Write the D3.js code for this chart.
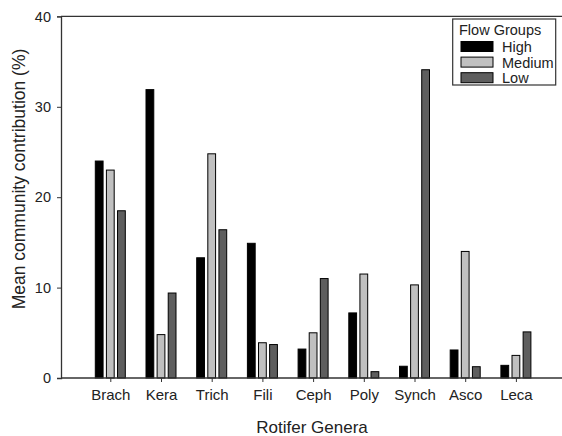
<!DOCTYPE html>
<html><head><meta charset="utf-8">
<script src="https://cdn.jsdelivr.net/npm/d3@7"></script>
<style>body{margin:0;background:#fff}svg{display:block}</style>
</head><body>
<script>
const categories = ["Brach","Kera","Trich","Fili","Ceph","Poly","Synch","Asco","Leca"];
const seriesNames = ["High","Medium","Low"];
const high   = [24.0, 31.9, 13.3, 14.9, 3.2, 7.2, 1.3, 3.1, 1.4];
const medium = [23.0, 4.8, 24.8, 3.9, 5.0, 11.5, 10.3, 14.0, 2.5];
const low    = [18.5, 9.4, 16.4, 3.7, 11.0, 0.7, 34.1, 1.25, 5.1];
const yTicks = [0, 10, 20, 30, 40];
const colors = ["#000000", "#c0c0c0", "#5e5e5e"];
const series = [high, medium, low];

const W = 562, H = 436;
const svg = d3.select("body").append("svg").attr("width", W).attr("height", H);
const font = "Liberation Sans, Arial, sans-serif";

const y = d3.scaleLinear().domain([0, 40]).range([378, 16.4]);
const x = d3.scalePoint().domain(categories).range([59.6, 566.6]).padding(1);
const sub = d3.scaleBand().domain(seriesNames).range([-15, 15]).paddingInner(0.3).paddingOuter(0);

// bars
const g = svg.append("g");
series.forEach((vals, si) => {
  g.selectAll(null).data(vals).enter().append("rect")
    .attr("x", (d, i) => x(categories[i]) + sub(seriesNames[si]))
    .attr("width", sub.bandwidth())
    .attr("y", d => y(d))
    .attr("height", d => y(0) - y(d))
    .attr("fill", colors[si])
    .attr("stroke", "#000")
    .attr("stroke-width", 1);
});

// top frame line
svg.append("line").attr("x1", 61).attr("x2", 562).attr("y1", 16.4).attr("y2", 16.4)
  .attr("stroke", "#333").attr("stroke-width", 1.3);

// y axis
const ya = svg.append("g").attr("transform", "translate(61,0)")
  .call(d3.axisLeft(y).tickValues(yTicks).tickSize(4).tickPadding(6));
ya.select(".domain").attr("stroke", "#333").attr("stroke-width", 1.3);
ya.selectAll(".tick line").attr("stroke", "#333");
ya.selectAll("text").attr("font-family", font).attr("font-size", 14.5).attr("fill", "#222");

// x axis
const xa = svg.append("g").attr("transform", "translate(0,378)")
  .call(d3.axisBottom(x).tickSize(4).tickPadding(7));
xa.select(".domain").remove();
xa.append("line").attr("x1", 61).attr("x2", 562).attr("stroke", "#333").attr("stroke-width", 1.3);
xa.selectAll(".tick line").attr("stroke", "#333");
xa.selectAll("text").attr("font-family", font).attr("font-size", 15).attr("fill", "#222");

// axis titles
svg.append("text").attr("x", 312).attr("y", 433).attr("text-anchor", "middle")
  .attr("font-family", font).attr("font-size", 17).attr("fill", "#222").text("Rotifer Genera");
svg.append("text").attr("transform", "translate(25,179) rotate(-90)").attr("text-anchor", "middle")
  .attr("font-family", font).attr("font-size", 17.5).attr("fill", "#222").text("Mean community contribution (%)");

// legend
const lg = svg.append("g");
lg.append("rect").attr("x", 452.7).attr("y", 19).attr("width", 103).attr("height", 66)
  .attr("fill", "#fff").attr("stroke", "#333").attr("stroke-width", 1.2);
lg.append("text").attr("x", 459).attr("y", 35).attr("font-family", font).attr("font-size", 14.5)
  .attr("fill", "#222").text("Flow Groups");
seriesNames.forEach((n, i) => {
  const yy = 41.5 + i * 15.6;
  lg.append("rect").attr("x", 461).attr("y", yy).attr("width", 32).attr("height", 10)
    .attr("fill", colors[i]).attr("stroke", "#000");
  lg.append("text").attr("x", 502).attr("y", yy + 10.5).attr("font-family", font).attr("font-size", 14.5)
    .attr("fill", "#222").text(n);
});
</script>
</body></html>
